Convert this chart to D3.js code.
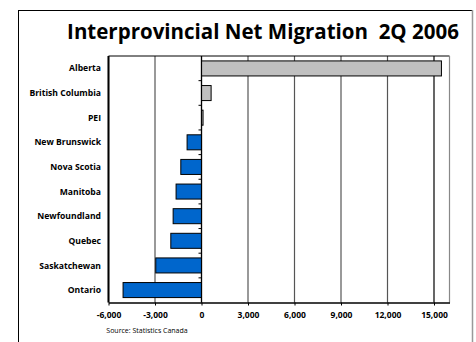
<!DOCTYPE html>
<html><head><meta charset="utf-8">
<script src="https://cdn.jsdelivr.net/npm/d3@7"></script>
<style>body{margin:0;background:#fff}svg{display:block}text{font-family:"Open Sans","DejaVu Sans",sans-serif;font-weight:bold}</style>
</head><body><svg id="c" width="476" height="342"></svg>
<script>
const categories = ["Alberta","British Columbia","PEI","New Brunswick","Nova Scotia","Manitoba","Newfoundland","Quebec","Saskatchewan","Ontario"];
const values = [15480, 620, 100, -930, -1335, -1640, -1830, -1980, -2950, -5060];
const tickValues = [-6000,-3000,0,3000,6000,9000,12000,15000];
const title = "Interprovincial Net Migration\u00a0\u00a02Q 2006";
const source = "Source: Statistics Canada";

const svg = d3.select("#c");
svg.append("rect").attr("x",18.5).attr("y",10.5).attr("width",454).attr("height",340)
  .attr("fill","none").attr("stroke","#000").attr("stroke-width",1);
svg.append("line").attr("x1",472.5).attr("x2",472.5).attr("y1",10).attr("y2",342).attr("stroke","#999").attr("stroke-width",1.5);

const m = {l:108.5, t:56, r:449.5, b:302.5};
const x = d3.scaleLinear().domain([-6000,16000]).range([m.l,m.r]);
const y = d3.scaleBand().domain(categories).range([m.t,m.b]).paddingInner(0.39).paddingOuter(0.2);
const yb = d3.scaleBand().domain(categories).range([m.t,m.b]);

svg.append("text").attr("x",263).attr("y",39).attr("text-anchor","middle")
  .attr("font-size",20.5).attr("font-weight",800).text(title);

svg.append("g").selectAll("line").data(tickValues).join("line")
  .attr("x1",d=>x(d)).attr("x2",d=>x(d)).attr("y1",m.t).attr("y2",m.b)
  .attr("stroke",d=>d===15000?"#000":"#555").attr("stroke-width",1.2);
svg.append("line").attr("x1",m.l).attr("x2",m.r).attr("y1",m.t).attr("y2",m.t).attr("stroke","#000").attr("stroke-width",1);
svg.append("line").attr("x1",m.r).attr("x2",m.r).attr("y1",m.t).attr("y2",m.b).attr("stroke","#888").attr("stroke-width",1.2);
svg.append("line").attr("x1",m.l).attr("x2",m.l).attr("y1",m.t).attr("y2",m.b).attr("stroke","#000").attr("stroke-width",2);

svg.append("g").selectAll("rect").data(categories).join("rect")
  .attr("x",(d,i)=>x(Math.min(0,values[i])))
  .attr("y",d=>y(d)).attr("height",y.bandwidth())
  .attr("width",(d,i)=>Math.abs(x(values[i])-x(0)))
  .attr("fill",(d,i)=>values[i]>=0?"#c0c0c0":"#0066cc")
  .attr("stroke","#000").attr("stroke-width",1);

svg.append("line").attr("x1",x(0)).attr("x2",x(0)).attr("y1",m.t).attr("y2",m.b).attr("stroke","#000").attr("stroke-width",1.2);
svg.append("g").selectAll("line").data(categories.slice(1)).join("line")
  .attr("x1",x(0)-3).attr("x2",x(0)).attr("y1",d=>yb(d)).attr("y2",d=>yb(d))
  .attr("stroke","#000").attr("stroke-width",1);

const fmt = d3.format(",d");
const xAxis = d3.axisBottom(x).tickValues(tickValues).tickSize(3).tickSizeOuter(0).tickFormat(d=>fmt(d).replace("\u2212","-"));
const gx = svg.append("g").attr("transform",`translate(0,${m.b})`).call(xAxis);
gx.select(".domain").attr("stroke","#000").attr("stroke-width",1.5);
gx.selectAll(".tick line").attr("stroke","#000");
gx.selectAll(".tick text").attr("font-size",8.5).attr("font-family","'Open Sans'").attr("font-weight","bold").attr("fill","#000").attr("dy","1.15em");

svg.append("g").selectAll("text").data(categories).join("text")
  .attr("x",101).attr("y",d=>yb(d)+yb.bandwidth()/2).attr("dy","0.35em")
  .attr("text-anchor","end").attr("font-size",8.6).text(d=>d);

svg.append("text").attr("x",147).attr("y",333).attr("text-anchor","middle")
  .attr("font-size",7).style("font-weight","normal").text(source);
</script></body></html>
